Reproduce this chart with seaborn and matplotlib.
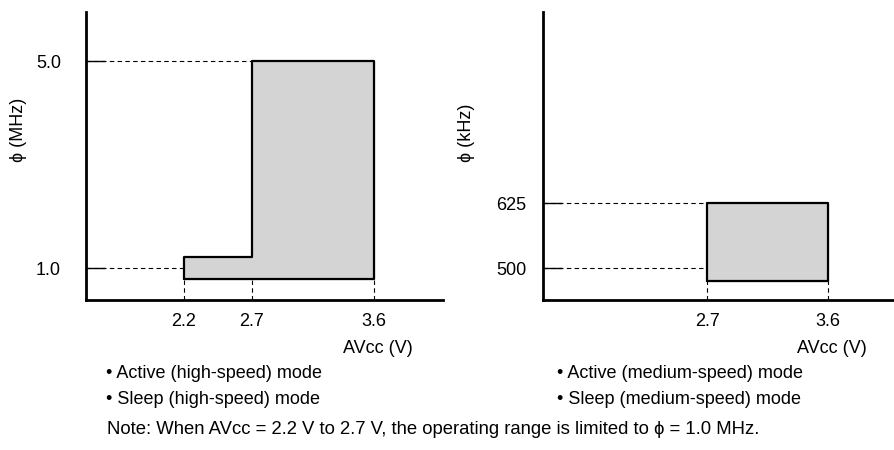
import matplotlib
matplotlib.use('Agg')
import matplotlib.pyplot as plt
import seaborn as sns
import pandas as pd

# Faixas de operação (esquemático)
v_high = [2.2, 2.2, 2.7, 2.7, 3.6, 3.6, 2.2]
f_high = [0.79, 1.21, 1.21, 5.0, 5.0, 0.79, 0.79]
ticks_v_high = [2.2, 2.7, 3.6]
ticks_f_high = [1.0, 5.0]
fim_tracejado_high = [2.2, 2.7]   # onde cada linha tracejada horizontal termina

v_med = [2.7, 2.7, 3.6, 3.6, 2.7]
f_med = [475, 625, 625, 475, 475]
ticks_v_med = [2.7, 3.6]
ticks_f_med = [500, 625]
fim_tracejado_med = [2.7, 2.7]

bullets_high = ['• Active (high-speed) mode', '• Sleep (high-speed) mode']
bullets_med = ['• Active (medium-speed) mode', '• Sleep (medium-speed) mode']
nota = 'Note: When AVcc = 2.2 V to 2.7 V, the operating range is limited to \u03d5 = 1.0 MHz.'

sns.set_theme(style='white')
plt.rcParams['font.family'] = ['Liberation Sans', 'DejaVu Sans']
plt.rcParams.update({
    'font.size': 13,
    'text.color': 'black',
    'axes.labelcolor': 'black',
    'xtick.color': 'black',
    'ytick.color': 'black',
})

fig = plt.figure(figsize=(8.94, 4.5), dpi=100)
W, H = 894, 450


def painel(rect, vs, fs, tv, tf, fim, tick_fmt, xlim, ylim, ylabel, ypad, ylab_xy, xlab_xy):
    ax = fig.add_axes(rect)
    ax.fill(vs, fs, color='#d4d4d4', zorder=1)
    df = pd.DataFrame({'v': vs, 'f': fs})
    sns.lineplot(data=df, x='v', y='f', sort=False, estimator=None,
                 color='black', linewidth=1.6, ax=ax, zorder=3)
    for t, xr in zip(tf, fim):
        ax.hlines(t, xlim[0], xr, colors='black', linestyles=(0, (4, 3)), linewidth=0.8, zorder=2)
    for t in tv:
        ax.vlines(t, ylim[0], min(fs), colors='black', linestyles=(0, (4, 3)), linewidth=0.8, zorder=2)
    ax.set_xlim(*xlim)
    ax.set_ylim(*ylim)
    ax.set_xticks(tv)
    ax.set_xticklabels([f'{t:.1f}' for t in tv])
    ax.set_yticks(tf)
    ax.set_yticklabels([tick_fmt(t) for t in tf])
    ax.tick_params(axis='x', length=0, pad=9, labelsize=13)
    ax.tick_params(axis='y', direction='in', length=14, width=1.0, pad=ypad, labelsize=13, left=True)
    for s in ['top', 'right']:
        ax.spines[s].set_visible(False)
    for s in ['left', 'bottom']:
        ax.spines[s].set_linewidth(2.0)
        ax.spines[s].set_color('black')
    ax.set_xlabel('AVcc (V)', ha='right', va='center', fontsize=13)
    ax.xaxis.set_label_coords(*xlab_xy)
    ax.set_ylabel(ylabel, va='center', ha='center', fontsize=13)
    ax.yaxis.set_label_coords(*ylab_xy)
    ax.grid(False)
    return ax


painel([86 / W, 150 / H, 357 / W, 288 / H], v_high, f_high, ticks_v_high, ticks_f_high,
       fim_tracejado_high, lambda t: f'{t:.1f}', (1.478, 4.108), (0.382, 5.947),
       '\u03d5 (MHz)', 18, (-0.19, 0.59), (0.916, -0.167))
painel([543 / W, 150 / H, 351 / W, 288 / H], v_med, f_med, ticks_v_med, ticks_f_med,
       fim_tracejado_med, lambda t: f'{t:d}', (1.48, 4.091), (438.5, 992.3),
       '\u03d5 (kHz)', 12, (-0.219, 0.58), (0.923, -0.167))

for i, txt in enumerate(bullets_high):
    fig.text(106 / W, 1 - (374 + 25 * i) / H, txt, ha='left', va='center', fontsize=13)
for i, txt in enumerate(bullets_med):
    fig.text(557 / W, 1 - (374 + 25 * i) / H, txt, ha='left', va='center', fontsize=13)
fig.text(107 / W, 1 - 430 / H, nota, ha='left', va='center', fontsize=13.3)

fig.savefig('out.png', dpi=100)
